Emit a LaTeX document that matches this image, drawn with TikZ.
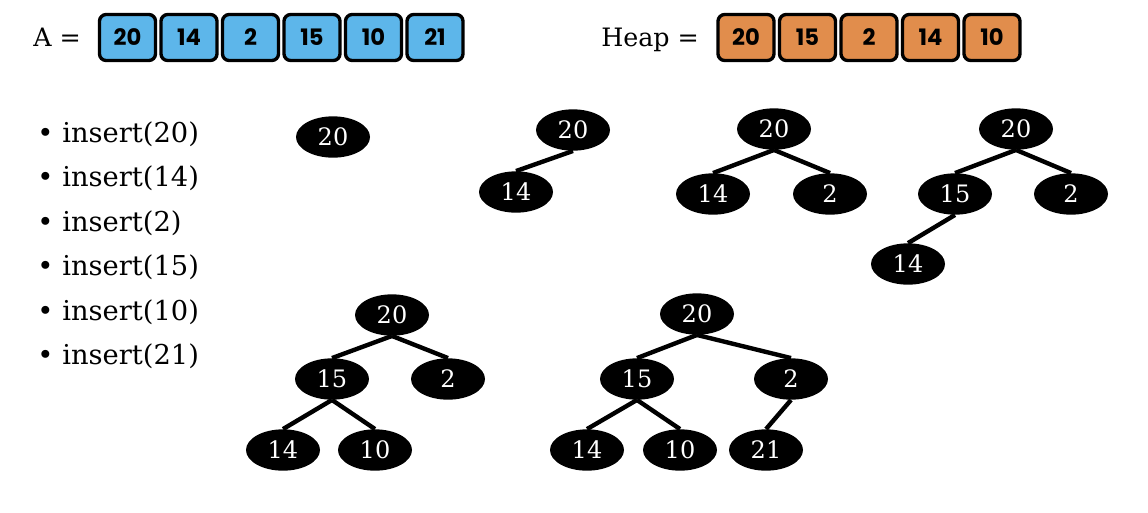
\documentclass[tikz,border=0pt]{standalone}
\usepackage{fontspec}
\setmainfont{DejaVu Serif}
\newfontfamily\cellfont{Poppins}
\usetikzlibrary{shapes.geometric}
\definecolor{cellblue}{RGB}{93,182,234}
\definecolor{cellorange}{RGB}{225,141,76}
\begin{document}
\begin{tikzpicture}[x=0.75pt,y=-0.75pt,
  cell/.style={draw=black, line width=2.5pt, rounded corners=5pt,
    minimum width=42pt, minimum height=34.5pt, inner sep=0pt,
    font=\cellfont\bfseries\fontsize{17}{17}\selectfont},
  blue cell/.style={cell, fill=cellblue},
  orange cell/.style={cell, fill=cellorange},
  key/.style={ellipse, fill=black, text=white, minimum width=55.5pt,
    minimum height=31pt, inner sep=0pt, font=\fontsize{18}{18}\selectfont},
  link/.style={line width=3.3pt},
  heading/.style={anchor=base west, inner sep=0pt, font=\fontsize{19}{19}\selectfont},
  op item/.style={anchor=base west, inner sep=0pt, font=\fontsize{20.5}{20.5}\selectfont},
  op bullet/.style={anchor=base, inner sep=0pt, font=\fontsize{20.5}{20.5}\selectfont}]
\useasboundingbox (0,0) rectangle (1148,512);

% input array
\node[heading] (atitle) at (33,46) {A =};
\foreach \v [count=\i] in {20,14,2,15,10,21}
  \node[blue cell] (a\i) at ({127.5+61.5*(\i-1)},37.5) {\v};

% resulting heap array
\node[heading] (htitle) at (601,46) {Heap =};
\foreach \v [count=\i] in {20,15,2,14,10}
  \node[orange cell] (h\i) at ({746+61.5*(\i-1)},37.5) {\v};

% sequence of insertions
\foreach \v [count=\i] in {20,14,2,15,10,21} {
  \node[op bullet] (b\i) at (45.5,{142+44.5*(\i-1)}) {•};
  \node[op item] (op\i) at (62,{142+44.5*(\i-1)}) {insert(\v)};
}

% after insert(20)
\node[key] (t1r) at (333,137) {20};

% after insert(14)
\node[key] (t2r) at (573,130) {20};
\node[key] (t2a) at (516,192) {14};
\draw[link] (t2r.south) -- (t2a.north);

% after insert(2)
\node[key] (t3r) at (774,129) {20};
\node[key] (t3a) at (713,194) {14};
\node[key] (t3b) at (830,194) {2};
\draw[link] (t3r.south) -- (t3a.north);
\draw[link] (t3r.south) -- (t3b.north);

% after insert(15)
\node[key] (t4r) at (1016,129) {20};
\node[key] (t4a) at (955,194) {15};
\node[key] (t4b) at (1071,194) {2};
\node[key] (t4c) at (908,264) {14};
\draw[link] (t4r.south) -- (t4a.north);
\draw[link] (t4r.south) -- (t4b.north);
\draw[link] (t4a.south) -- (t4c.north);

% after insert(10)
\node[key] (t5r) at (392,315) {20};
\node[key] (t5a) at (332,379) {15};
\node[key] (t5b) at (448,379) {2};
\node[key] (t5c) at (283,450) {14};
\node[key] (t5d) at (375,450) {10};
\draw[link] (t5r.south) -- (t5a.north);
\draw[link] (t5r.south) -- (t5b.north);
\draw[link] (t5a.south) -- (t5c.north);
\draw[link] (t5a.south) -- (t5d.north);

% after insert(21)
\node[key] (t6r) at (697,314) {20};
\node[key] (t6a) at (637,379) {15};
\node[key] (t6b) at (791,379) {2};
\node[key] (t6c) at (587,450) {14};
\node[key] (t6d) at (680,450) {10};
\node[key] (t6e) at (766,450) {21};
\draw[link] (t6r.south) -- (t6a.north);
\draw[link] (t6r.south) -- (t6b.north);
\draw[link] (t6a.south) -- (t6c.north);
\draw[link] (t6a.south) -- (t6d.north);
\draw[link] (t6b.south) -- (t6e.north);
\end{tikzpicture}
\end{document}
